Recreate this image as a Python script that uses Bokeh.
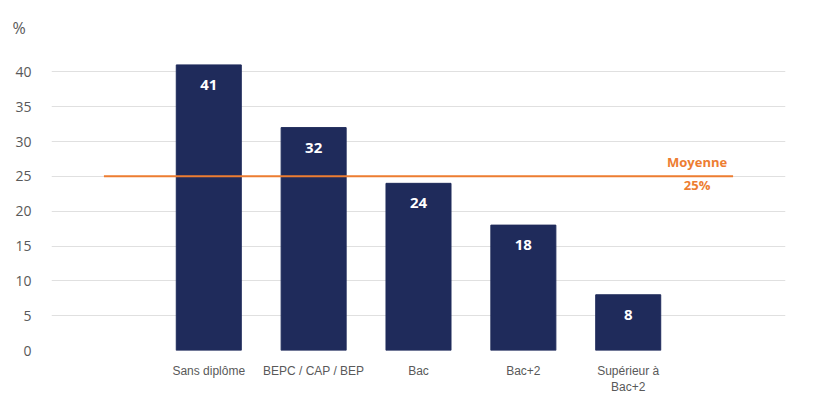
from bokeh.plotting import figure
from bokeh.models import FactorRange, Range1d, ColumnDataSource
from bokeh.core.properties import value
from bokeh.embed import file_html
from bokeh.resources import INLINE

categories = ["Sans diplôme", "BEPC / CAP / BEP", "Bac", "Bac+2", "Supérieur à\nBac+2"]
values = [41, 32, 24, 18, 8]
average = 25
average_labels = ["Moyenne", "25%"]
y_ticks = [0, 5, 10, 15, 20, 25, 30, 35, 40]
unit_label = "%"

factors = [" "] + categories + ["  "]

p = figure(width=811, height=397, x_range=FactorRange(factors=factors, range_padding=0),
           y_range=Range1d(0, 43.07), output_backend="svg", toolbar_location=None,
           min_border_left=51, min_border_right=26, min_border_top=50, min_border_bottom=45,
           title=unit_label)
p.outline_line_color = None
p.background_fill_color = "white"

p.title.align = "left"
p.title.offset = -39
p.title.text_font = "Open Sans"
p.title.text_font_size = "16px"
p.title.text_font_style = "normal"
p.title.text_color = "#595959"
p.title.standoff = 24

src = ColumnDataSource(dict(x=categories, y=values, t=[str(v) for v in values]))
p.vbar(x="x", top="y", width=0.62, source=src, fill_color="#1f2b5b", line_color="#1f2b5b")
p.text(x="x", y="y", text="t", source=src, text_color="white", text_font=value("Open Sans"),
       text_font_style="bold", text_font_size="15px", text_align="center", text_baseline="top",
       y_offset=15)

p.line(x=[factors[0], factors[-1]], y=[average, average], line_color="#ed7d31", line_width=2)
p.text(x=[factors[-1]], y=[average], text=[average_labels[0]], text_color="#ed7d31",
       text_font=value("Open Sans"), text_font_style="bold", text_font_size="13px",
       text_align="center", text_baseline="bottom", x_offset=-36, y_offset=-5)
p.text(x=[factors[-1]], y=[average], text=[average_labels[1]], text_color="#ed7d31",
       text_font=value("Open Sans"), text_font_style="bold", text_font_size="13px",
       text_align="center", text_baseline="top", x_offset=-36, y_offset=0)

p.yaxis.ticker = y_ticks
p.yaxis.axis_line_color = None
p.yaxis.major_tick_line_color = None
p.yaxis.minor_tick_line_color = None
p.yaxis.major_label_text_font = "Open Sans"
p.yaxis.major_label_text_font_size = "14px"
p.yaxis.major_label_text_color = "#595959"
p.yaxis.major_label_standoff = 14

p.xaxis.axis_line_color = None
p.xaxis.major_tick_line_color = None
p.xaxis.minor_tick_line_color = None
p.xaxis.major_label_text_font = "Liberation Sans"
p.xaxis.major_label_text_font_size = "12px"
p.xaxis.major_label_text_color = "#595959"
p.xaxis.major_label_standoff = 7

p.xgrid.grid_line_color = None
p.ygrid.grid_line_color = "#e0e0e0"
p.ygrid.grid_line_width = 1

open("out.html", "w").write(file_html(p, INLINE))
